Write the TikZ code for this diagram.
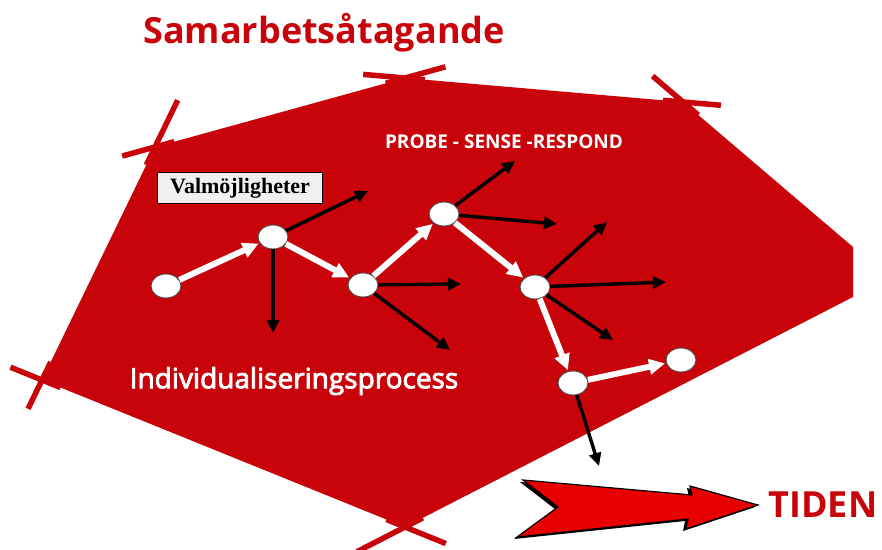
\documentclass[tikz,border=0pt]{standalone}
\usepackage{fontspec}
\setmainfont{Liberation Serif}
\newfontfamily\opensans{Open Sans}
\newfontfamily\opensansmed[FakeBold=3]{Open Sans}
\usetikzlibrary{
  calc,
  arrows.meta,
  shapes
}
\definecolor{polyred}{RGB}{200,4,10}
\definecolor{arrowred}{RGB}{232,0,0}
\definecolor{boxgray}{RGB}{240,240,240}

\begin{document}
\begin{tikzpicture}[x=1pt, y=-1pt,
    stage/.style = {ellipse, draw=black!70, line width=0.9pt, fill=white,
      minimum width=30pt, minimum height=24pt, inner sep=0pt},
    walk/.style = {draw=white, line width=6pt,
      -{Triangle[length=16pt,width=15pt]}, shorten >=1pt},
    choice/.style = {draw=black, line width=3.4pt,
      -{Triangle[length=13pt,width=12pt]}},
    tick/.style = {draw=polyred, line width=5.5pt}]
  \useasboundingbox (0,0) rectangle (882,549);
  \coordinate (c1) at (42,380);
  \coordinate (c2) at (155,147);
  \coordinate (c3) at (405,78);
  \coordinate (c4) at (683,102);
  \coordinate (c5) at (853,247);
  \coordinate (c6) at (853,297);
  \coordinate (c7) at (405,527);
  \fill[polyred] (c1) -- (c2) -- (c3) -- (c4) -- (c5) -- (c6) -- (c7) -- cycle;
  \draw[tick] ($(c1)!-32pt!(c2)$) -- ($(c1)!20pt!(c2)$);
  \draw[tick] ($(c1)!-34pt!(c7)$) -- ($(c1)!20pt!(c7)$);
  \draw[tick] ($(c2)!-52pt!(c1)$) -- ($(c2)!20pt!(c1)$);
  \draw[tick] ($(c2)!-34pt!(c3)$) -- ($(c2)!20pt!(c3)$);
  \draw[tick] ($(c3)!-42pt!(c2)$) -- ($(c3)!20pt!(c2)$);
  \draw[tick] ($(c3)!-42pt!(c4)$) -- ($(c3)!20pt!(c4)$);
  \draw[tick] ($(c4)!-40pt!(c5)$) -- ($(c4)!20pt!(c5)$);
  \draw[tick] ($(c4)!-38pt!(c3)$) -- ($(c4)!20pt!(c3)$);
  \draw[tick] ($(c7)!-54pt!(c6)$) -- ($(c7)!20pt!(c6)$);
  \draw[tick] ($(c7)!-44pt!(c1)$) -- ($(c7)!20pt!(c1)$);

  \node[text=polyred, font=\opensans\bfseries\fontsize{36}{40}\selectfont]
    (title) at (324,33) {Samarbetsåtagande};
  \node[text=white, font=\opensans\bfseries\fontsize{19}{22}\selectfont]
    (psr) at (504,142) {PROBE - SENSE -RESPOND};
  \node[text=white, font=\opensansmed\fontsize{28}{32}\selectfont]
    (indiv) at (294,381) {Individualiseringsprocess};
  \node[draw=black, line width=1pt, fill=boxgray, minimum width=165pt,
    minimum height=31pt, font=\bfseries\fontsize{22}{24}\selectfont]
    (valm) at (240,188) {Valmöjligheter};

  \node[stage] (n1) at (166,286) {};
  \node[stage] (n2) at (273,237) {};
  \node[stage] (n3) at (363,285) {};
  \node[stage] (n4) at (444,214) {};
  \node[stage] (n5) at (535,287) {};
  \node[stage] (n6) at (573,383) {};
  \node[stage] (n7) at (681,360) {};

  \coordinate (e2a) at (368,191);
  \coordinate (e2b) at (273,333);
  \coordinate (e3a) at (461,284);
  \coordinate (e3b) at (450,350);
  \coordinate (e4a) at (515,161);
  \coordinate (e4b) at (557,224);
  \coordinate (e5a) at (607,222);
  \coordinate (e5b) at (666,282);
  \coordinate (e5c) at (613,340);
  \coordinate (e6a) at (599,466);
  \foreach \from/\to in {n2/e2a, n2/e2b, n3/e3a, n3/e3b, n4/e4a, n4/e4b,
      n5/e5a, n5/e5b, n5/e5c, n6/e6a}
    \draw[choice] (\from) -- (\to);
  \foreach \from/\to in {n1/n2, n2/n3, n3/n4, n4/n5, n5/n6, n6/n7}
    \draw[walk] (\from) -- (\to);

  \coordinate (t1) at (523,480);
  \coordinate (t2) at (558,507);
  \coordinate (t3) at (517,537);
  \coordinate (t4) at (688,519);
  \coordinate (t5) at (686,529);
  \coordinate (t6) at (758,505);
  \coordinate (t7) at (690,486);
  \coordinate (t8) at (692,495);
  \fill[black] ([shift={(-3,2)}]t1) -- ([shift={(-3,2)}]t2) -- ([shift={(-3,2)}]t3)
    -- ([shift={(-3,2)}]t4) -- ([shift={(-3,2)}]t5) -- ([shift={(-3,2)}]t6)
    -- ([shift={(-3,2)}]t7) -- ([shift={(-3,2)}]t8) -- cycle;
  \draw[fill=arrowred, draw=black, line width=1.2pt, line join=miter]
    (t1) -- (t2) -- (t3) -- (t4) -- (t5) -- (t6) -- (t7) -- (t8) -- cycle;
  \node[text=polyred, font=\opensans\bfseries\fontsize{36}{40}\selectfont]
    (tiden) at (823,505) {TIDEN};
\end{tikzpicture}
\end{document}
